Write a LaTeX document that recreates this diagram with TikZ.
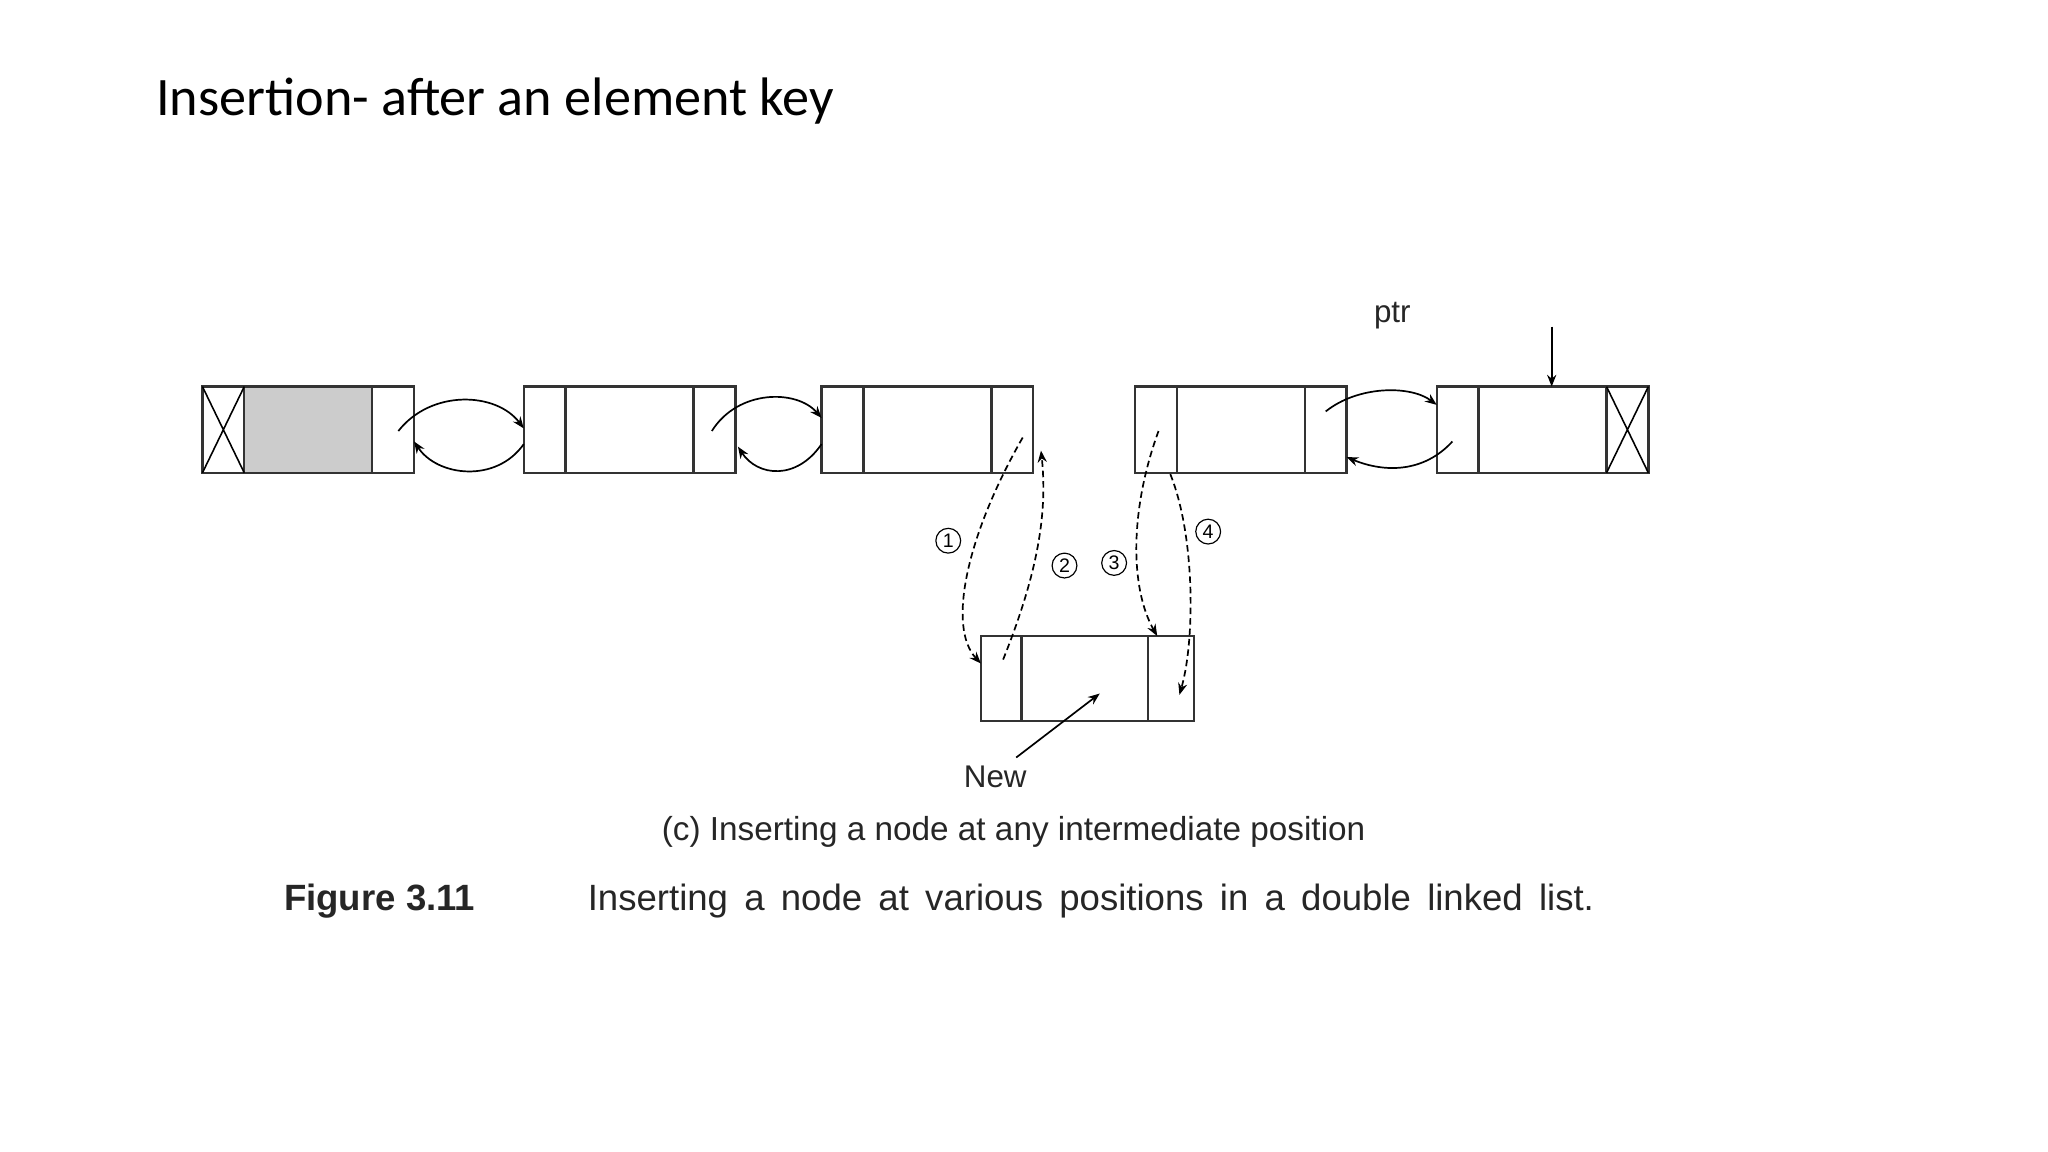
\documentclass[tikz,border=0pt]{standalone}
\usepackage{fontspec}
\setmainfont{Liberation Sans}
\newfontfamily\titlefont{Carlito}
\usetikzlibrary{arrows.meta}
\begin{document}
\begin{tikzpicture}[x=1pt,y=-1pt,
 cell/.style={draw=black!80,line width=1.8pt,minimum height=66pt,anchor=north west,inner sep=0,outer sep=0},
 sm/.style={cell,minimum width=32pt},
 big/.style={cell,minimum width=98pt},
 lnk/.style={line width=1.3pt,-{Stealth[length=9pt,width=7pt]}},
 dsh/.style={line width=1.3pt,dashed,dash pattern=on 5pt off 3pt,-{Stealth[length=9pt,width=7pt]}},
 num/.style={circle,draw,line width=0.9pt,minimum size=19pt,inner sep=0pt,font=\fontsize{15}{15}\selectfont},
 lbl/.style={font=\fontsize{24}{26}\selectfont,text=black!85}]
\useasboundingbox (0,0) rectangle (1568,882);
\node[anchor=west,font=\titlefont\fontsize{41.5}{44}\selectfont] (title) at (116,77) {Insertion- after an element key};
% node 1
\node[sm] (a1) at (155,296) {}; \node[big,fill=black!20] (a2) at (187,296) {}; \node[sm] (a3) at (285,296) {};
\draw[line width=1.2pt] (a1.north west)--(a1.south east) (a1.south west)--(a1.north east);
% node 2
\node[sm] (b1) at (401,296) {}; \node[big] (b2) at (433,296) {}; \node[sm] (b3) at (531,296) {};
% node 3
\node[sm] (c1) at (629,296) {}; \node[big] (c2) at (661,296) {}; \node[sm] (c3) at (759,296) {};
% node 4
\node[sm] (d1) at (869,296) {}; \node[big] (d2) at (901,296) {}; \node[sm] (d3) at (999,296) {};
% node 5
\node[sm] (e1) at (1100,296) {}; \node[big] (e2) at (1132,296) {}; \node[sm] (e3) at (1230,296) {};
\draw[line width=1.2pt] (e3.north west)--(e3.south east) (e3.south west)--(e3.north east);
% new node
\node[cell,minimum width=31pt,minimum height=65pt] (n1) at (751,487) {};
\node[cell,minimum width=97pt,minimum height=65pt] (n2) at (782,487) {};
\node[cell,minimum width=35pt,minimum height=65pt] (n3) at (879,487) {};
% links
\coordinate (s1) at (305,330); \coordinate (t1) at (401,328);
\coordinate (s2) at (401,340); \coordinate (t2) at (317,338);
\draw[lnk] (s1) .. controls (330,298) and (380,300) .. (t1);
\draw[lnk] (s2) .. controls (380,370) and (335,365) .. (t2);
\coordinate (s3) at (545,330); \coordinate (t3) at (629,320);
\coordinate (s4) at (629,340); \coordinate (t4) at (565,342);
\draw[lnk] (s3) .. controls (565,298) and (610,298) .. (t3);
\draw[lnk] (s4) .. controls (610,368) and (580,365) .. (t4);
\coordinate (s5) at (1015,315); \coordinate (t5) at (1100,310);
\coordinate (s6) at (1112,338); \coordinate (t6) at (1031,350);
\draw[lnk] (s5) .. controls (1040,295) and (1080,295) .. (t5);
\draw[lnk] (s6) .. controls (1090,362) and (1060,362) .. (t6);
% dashed
\coordinate (p1) at (783,335); \coordinate (q1) at (751,508);
\coordinate (p2) at (768,505); \coordinate (q2) at (797,345);
\coordinate (p3) at (887,330); \coordinate (q3) at (886,487);
\coordinate (p4) at (896,363); \coordinate (q4) at (903,532);
\draw[dsh] (p1) .. controls (740,410) and (725,480) .. (q1);
\draw[dsh] (p2) .. controls (790,450) and (803,400) .. (q2);
\draw[dsh] (p3) .. controls (865,390) and (865,450) .. (q3);
\draw[dsh] (p4) .. controls (915,410) and (915,490) .. (q4);
\node[num] (c1n) at (726,414) {1};
\node[num] (c2n) at (815,433) {2};
\node[num] (c3n) at (853,431) {3};
\node[num] (c4n) at (925,407) {4};
% ptr
\node[lbl] (ptr) at (1066,242) {ptr};
\coordinate (pt) at (1188,250);
\draw[lnk] (pt) -- (1188,296);
% New
\node[lbl] (new) at (762,595) {New};
\coordinate (ns) at (778,580); \coordinate (nt) at (842,531);
\draw[lnk] (ns) -- (nt);
\node[lbl,font=\fontsize{25.5}{27}\selectfont] (cap) at (776,637) {(c) Inserting a node at any intermediate position};
\node[lbl,anchor=west,font=\bfseries\fontsize{28}{30}\selectfont] (fig) at (214,690) {Figure 3.11};
\node[lbl,anchor=east,font=\fontsize{28}{30}\selectfont] (figt) at (1224,690) {Inserting\, a\, node\, at\, various\, positions\, in\, a\, double\, linked\, list.};
\end{tikzpicture}
\end{document}
